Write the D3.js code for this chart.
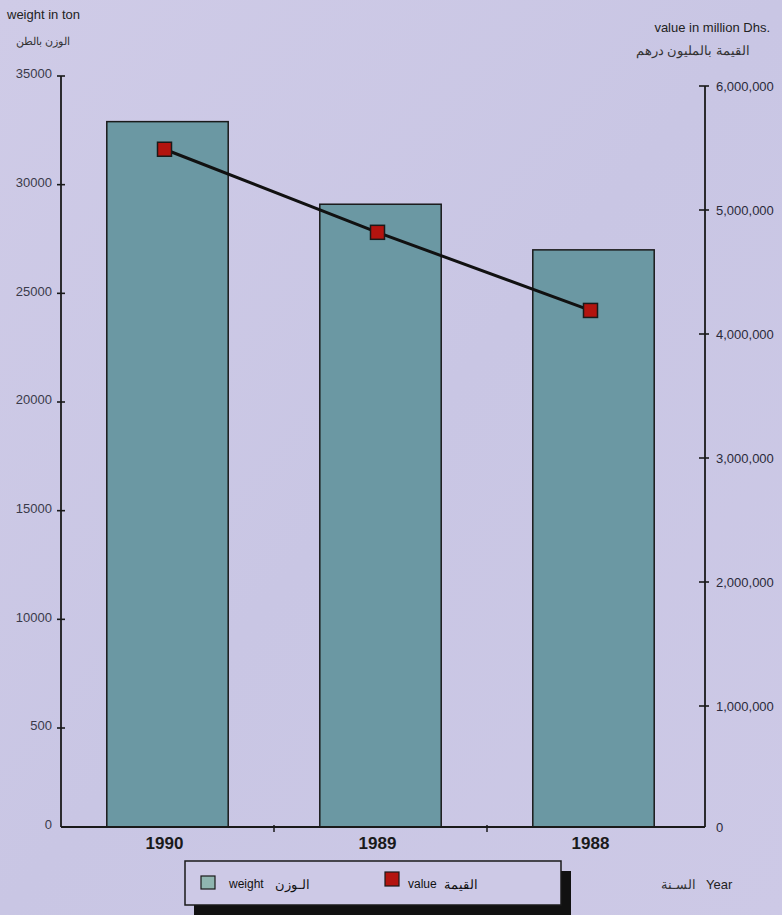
<!DOCTYPE html>
<html><head><meta charset="utf-8">
<script src="https://cdn.jsdelivr.net/npm/d3@7"></script>
<style>
html,body{margin:0;padding:0;}
body{width:782px;height:915px;overflow:hidden;}
text{font-family:"Liberation Sans",Arial,sans-serif;}
</style></head>
<body>
<svg id="chart" width="782" height="915"></svg>
<script>
const years = ["1990", "1989", "1988"];
const weightTons = [32900, 29100, 27000];
const valueDhs = [5490000, 4820000, 4190000];
const leftTicks = [0, 5000, 10000, 15000, 20000, 25000, 30000, 35000];
const leftTickLabels = ["0", "500", "10000", "15000", "20000", "25000", "30000", "35000"];
const rightTicks = [0, 1000000, 2000000, 3000000, 4000000, 5000000, 6000000];

const svg = d3.select("#chart");
const defs = svg.append("defs");
const grad = defs.append("linearGradient").attr("id","bg").attr("x1","0").attr("y1","0").attr("x2","1").attr("y2","1");
grad.append("stop").attr("offset","0").attr("stop-color","#cfcbe7");
grad.append("stop").attr("offset","0.5").attr("stop-color","#c9c6e4");
grad.append("stop").attr("offset","1").attr("stop-color","#cdc9e6");
svg.append("rect").attr("width",782).attr("height",915).attr("fill","url(#bg)");

const x0 = 61, x1 = 705, yBase = 827;
const x = d3.scaleBand().domain(years).range([x0, 700]).paddingInner(0.43).paddingOuter(0.215);
// the printed axis is not evenly spaced at its lowest step
const yL = d3.scaleLinear().domain([0, 5000, 35000]).range([yBase, 728, 76]);
const yR = d3.scaleLinear().domain([0, 1000000, 6000000]).range([yBase, 706, 86]);

// bars
svg.selectAll("rect.bar").data(years).enter().append("rect")
  .attr("class","bar")
  .attr("x", d => x(d)).attr("width", x.bandwidth())
  .attr("y", (d,i) => yL(weightTons[i]))
  .attr("height", (d,i) => yBase - yL(weightTons[i]))
  .attr("fill","#6b98a3").attr("stroke","#1a1a1a").attr("stroke-width",1.5);

// left axis
const axL = svg.append("g").attr("transform",`translate(${x0},0)`)
  .call(d3.axisLeft(yL).tickValues(leftTicks).tickSize(0).tickFormat((d,i)=>leftTickLabels[i]));
axL.select(".domain").remove();
axL.selectAll("text").attr("x",-9).attr("dy","0.15em").attr("fill","#3a3a4a").attr("font-size",13);
svg.append("line").attr("x1",x0).attr("x2",x0).attr("y1",yL(35000)).attr("y2",yBase).attr("stroke","#1a1a1a").attr("stroke-width",1.8);
svg.selectAll("line.lt").data(leftTicks.filter(d=>d>0)).enter().append("line").attr("class","lt")
  .attr("x1",x0-4).attr("x2",x0+4).attr("y1",d=>yL(d)).attr("y2",d=>yL(d)).attr("stroke","#1a1a1a").attr("stroke-width",1.6);

// right axis
const axR = svg.append("g").attr("transform",`translate(${x1},0)`)
  .call(d3.axisRight(yR).tickValues(rightTicks).tickSize(0).tickFormat(d3.format(",")));
axR.select(".domain").remove();
axR.selectAll("text").attr("x",11).attr("dy","0.32em").attr("fill","#2a2a3a").attr("font-size",13);
svg.append("line").attr("x1",x1).attr("x2",x1).attr("y1",yR(6000000)).attr("y2",yBase).attr("stroke","#1a1a1a").attr("stroke-width",1.8);
svg.selectAll("line.rt").data(rightTicks.filter(d=>d>0)).enter().append("line").attr("class","rt")
  .attr("x1",x1-6).attr("x2",x1+4).attr("y1",d=>yR(d)).attr("y2",d=>yR(d)).attr("stroke","#1a1a1a").attr("stroke-width",1.6);

// bottom axis
svg.append("line").attr("x1",x0).attr("x2",x1).attr("y1",yBase).attr("y2",yBase).attr("stroke","#1a1a1a").attr("stroke-width",1.8);
const bounds = years.slice(1).map(d => x(d) - x.step()*x.paddingInner()/2);
svg.selectAll("line.xt").data(bounds).enter().append("line").attr("class","xt")
  .attr("x1",d=>d).attr("x2",d=>d).attr("y1",yBase-2).attr("y2",yBase+5).attr("stroke","#1a1a1a").attr("stroke-width",1.5);
svg.selectAll("text.xl").data(years).enter().append("text").attr("class","xl")
  .attr("x", d => x(d) + x.bandwidth()/2 - 3).attr("y", 849)
  .attr("text-anchor","middle").attr("font-size",17).attr("font-weight","bold").attr("fill","#1a1a1a").text(d=>d);

// line series
const line = d3.line().x((d,i)=>x(years[i]) + x.bandwidth()/2 - 3).y(d=>yR(d));
svg.append("path").datum(valueDhs).attr("d",line).attr("fill","none").attr("stroke","#111").attr("stroke-width",3);
svg.selectAll("rect.pt").data(valueDhs).enter().append("rect").attr("class","pt")
  .attr("x",(d,i)=>x(years[i]) + x.bandwidth()/2 - 3 - 7).attr("y",d=>yR(d)-7)
  .attr("width",14).attr("height",14).attr("fill","#b3140f").attr("stroke","#1a1a1a").attr("stroke-width",1.5);

// axis titles
svg.append("text").attr("x",7).attr("y",19).attr("font-size",13).attr("fill","#222").text("weight in ton");
svg.append("text").attr("x",70).attr("y",45).attr("text-anchor","end").attr("font-size",11).attr("fill","#333")
  .attr("font-family","'DejaVu Sans',sans-serif").text("الوزن بالطن");
svg.append("text").attr("x",770).attr("y",32).attr("text-anchor","end").attr("font-size",13).attr("fill","#222").text("value in million Dhs.");
svg.append("text").attr("x",750).attr("y",55).attr("text-anchor","end").attr("font-size",13).attr("fill","#333")
  .attr("font-family","'DejaVu Sans',sans-serif").text("القيمة بالمليون درهم");

// legend
svg.append("rect").attr("x",194).attr("y",871).attr("width",377).attr("height",50).attr("fill","#111");
svg.append("rect").attr("x",185).attr("y",861).attr("width",376).attr("height",44).attr("fill","#cdc9e6").attr("stroke","#1a1a1a").attr("stroke-width",1.5);
svg.append("rect").attr("x",201).attr("y",876).attr("width",14).attr("height",13).attr("fill","#8fb5b0").attr("stroke","#1a1a1a").attr("stroke-width",1.2);
svg.append("text").attr("x",229).attr("y",888).attr("font-size",12).attr("fill","#111").text("weight");
svg.append("text").attr("x",310).attr("y",889).attr("text-anchor","end").attr("font-size",13).attr("fill","#111")
  .attr("font-family","'DejaVu Sans',sans-serif").text("الـوزن");
svg.append("rect").attr("x",385).attr("y",872).attr("width",14).attr("height",14).attr("fill","#b3140f").attr("stroke","#1a1a1a").attr("stroke-width",1.2);
svg.append("text").attr("x",408).attr("y",888).attr("font-size",12).attr("fill","#111").text("value");
svg.append("text").attr("x",478).attr("y",889).attr("text-anchor","end").attr("font-size",13).attr("fill","#111")
  .attr("font-family","'DejaVu Sans',sans-serif").text("القيمة");

svg.append("text").attr("x",706).attr("y",889).attr("font-size",13).attr("fill","#222").text("Year");
svg.append("text").attr("x",696).attr("y",889).attr("text-anchor","end").attr("font-size",13).attr("fill","#333")
  .attr("font-family","'DejaVu Sans',sans-serif").text("السـنة");
</script>
</body></html>
